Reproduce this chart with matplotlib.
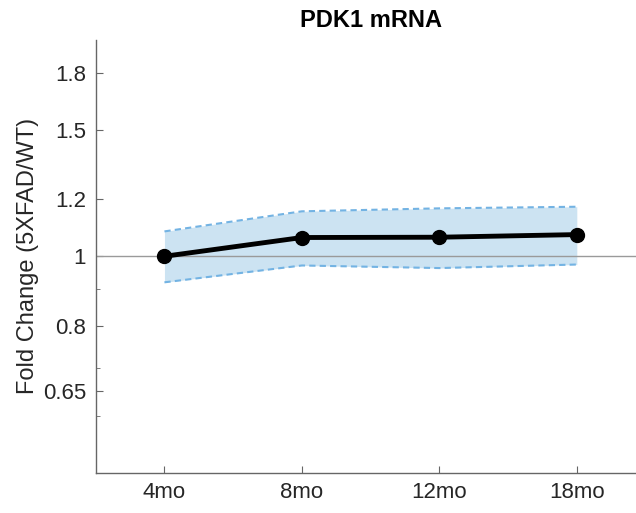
import matplotlib
matplotlib.use("Agg")
import matplotlib.pyplot as plt
from matplotlib.ticker import FixedLocator, NullFormatter

plt.rcParams["font.family"] = ["Liberation Sans", "DejaVu Sans"]

# data
ages = ["4mo", "8mo", "12mo", "18mo"]
fold_change = [1.000, 1.062, 1.063, 1.072]
band_upper = [1.083, 1.155, 1.166, 1.172]
band_lower = [0.920, 0.971, 0.963, 0.974]
y_ticks = [0.65, 0.8, 1, 1.2, 1.5, 1.8]
y_tick_labels = ["0.65", "0.8", "1", "1.2", "1.5", "1.8"]
y_minor = [0.6, 0.7, 0.9]

x = list(range(1, len(ages) + 1))

fig = plt.figure(figsize=(6.36, 5.13), dpi=100)
# axes runs a little past the right edge of the figure, as in the original
ax = fig.add_axes([0.1505, 0.0786, 0.8645, 0.8436])

ax.set_yscale("log")
ax.fill_between(x, band_lower, band_upper, color="#cce3f2", lw=0, zorder=1)
ax.plot(x, band_upper, ls=(0, (3, 2)), color="#73b3e3", lw=1.5, zorder=2)
ax.plot(x, band_lower, ls=(0, (3, 2)), color="#73b3e3", lw=1.5, zorder=2)
ax.axhline(1, color="#9a9a9a", lw=1.0, zorder=2)
ax.plot(x, fold_change, "-o", color="black", lw=3.5, ms=10, zorder=3)

ax.set_xlim(0.5, 4.5)
ax.set_ylim(0.5, 2.0)
ax.set_xticks(x)
ax.set_xticklabels(ages)
ax.yaxis.set_major_locator(FixedLocator(y_ticks))
ax.set_yticklabels(y_tick_labels)
ax.yaxis.set_minor_locator(FixedLocator(y_minor))
ax.yaxis.set_minor_formatter(NullFormatter())

for side in ["top", "right"]:
    ax.spines[side].set_visible(False)
for side in ["left", "bottom"]:
    ax.spines[side].set_color("#666666")
    ax.spines[side].set_linewidth(1.0)
ax.tick_params(axis="both", which="both", direction="in", color="#666666",
               labelsize=16, labelcolor="#262626")
ax.tick_params(axis="both", which="major", length=5, pad=7)
ax.tick_params(axis="y", which="minor", length=3)

ax.set_ylabel("Fold Change (5XFAD/WT)", fontsize=17, color="#262626", labelpad=3)
ax.set_title("PDK1 mRNA", fontsize=17, fontweight="bold", pad=9)

fig.savefig("out.png", dpi=100)
